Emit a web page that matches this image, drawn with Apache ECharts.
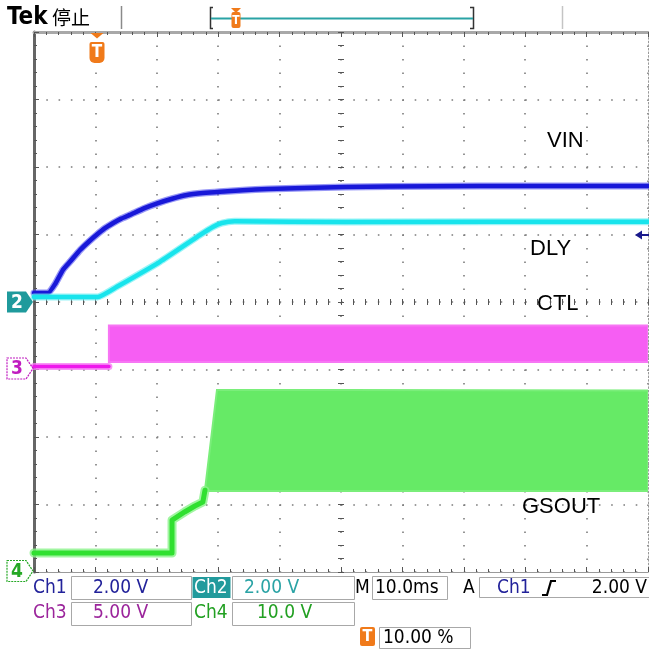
<!DOCTYPE html>
<html><head><meta charset="utf-8">
<script src="https://cdn.jsdelivr.net/npm/echarts@6/dist/echarts.min.js"></script>
<style>html,body{margin:0;padding:0;background:#fff}#c{width:649px;height:651px}</style>
</head><body><div id="c"></div>
<script>
// ---- scope settings ----
const channelNames = ['VIN', 'DLY', 'CTL', 'GSOUT'];
const voltsPerDiv = [2, 2, 5, 10];
const groundDiv = [4, 4, 3, 0];          // ground marker position, divisions from bottom
const scaleLabels = ['2.00 V', '2.00 V', '5.00 V', '10.0 V'];
const timeMin = -10, timeMax = 90, msPerDiv = 10;   // 10.0 ms/div, trigger at 10 %
const timebaseLabel = '10.0ms';
const triggerLabel = '2.00 V';
const triggerPosLabel = '10.00 %';

// ---- Ch1 VIN ----
const vinTime  = [-10, -7.7, -6.5, -5.3, -4.0, -2.5, -1.0, 0.2, 1.5, 2.9, 4.2, 5.6, 8.0, 10.2, 12.5, 14.9, 17.5, 20.3, 24.0, 28.1, 34.0, 40.7, 55, 70, 90];
const vinVolts = [0.27, 0.27, 0.55, 0.95, 1.22, 1.54, 1.80, 1.99, 2.18, 2.34, 2.47, 2.58, 2.78, 2.93, 3.06, 3.17, 3.23, 3.27, 3.31, 3.35, 3.38, 3.41, 3.43, 3.44, 3.44];
// ---- Ch2 DLY ----
const dlyTime  = [-10, 0.4, 3.5, 10.5, 17.0, 19.2, 20.6, 22.7, 40.7, 90];
const dlyVolts = [0.15, 0.15, 0.45, 1.19, 1.98, 2.23, 2.34, 2.39, 2.37, 2.38];
// ---- Ch3 CTL ----
const ctlTime  = [-10, 2.2];
const ctlVolts = [0.22, 0.22];
const ctlBandTime  = [2.2, 90];
const ctlBandHigh  = [3.26, 3.26];
const ctlBandLow   = [0.56, 0.56];
// ---- Ch4 GSOUT ----
const gsTime  = [-10, 12.48, 12.48, 14.6, 16.2, 17.5, 17.85];
const gsVolts = [2.81, 2.81, 7.7, 8.93, 9.78, 10.37, 12.1];
const gsBandTime = [17.85, 19.8, 40, 90];
const gsBandHigh = [12.15, 26.96, 26.95, 26.9];
const gsBandLow  = [12.0, 12.0, 12.0, 12.0];

const zip = (a, b) => a.map((v, i) => [v, b[i]]);
const chart = echarts.init(document.getElementById('c'), null, {renderer: 'canvas'});

const G = {left: 34, top: 32, width: 614, height: 540};
const tickCol = '#555';
const dotCol = '#7c7c7c';

function rulerX(pos, extra) {
  return Object.assign({
    type: 'value', min: timeMin, max: timeMax, interval: msPerDiv, position: pos,
    axisLabel: {show: false},
    axisLine: {show: true, onZero: false, lineStyle: {color: '#9a9a9a', width: 1}},
    axisTick: {show: true, inside: true, length: 5, lineStyle: {color: tickCol}},
    minorTick: {show: true, splitNumber: 5, length: 3, lineStyle: {color: tickCol}},
    splitLine: {show: false}
  }, extra || {});
}
function rulerY(pos, extra) {
  return Object.assign({
    type: 'value', min: 0, max: 8, interval: 1, position: pos,
    axisLabel: {show: false},
    axisLine: {show: true, onZero: false, lineStyle: {color: '#666', width: 3}},
    axisTick: {show: true, inside: true, length: 5, lineStyle: {color: tickCol}},
    minorTick: {show: true, splitNumber: 5, length: 3, lineStyle: {color: tickCol}},
    splitLine: {show: false}
  }, extra || {});
}

const xAxes = [
  rulerX('bottom', {splitLine: {show: true, lineStyle: {color: dotCol, width: 1.6, type: [1.6, 11.9]}}}),
  rulerX('top', {axisLine: {show: true, onZero: false, lineStyle: {color: '#a8a8a8', width: 3}}}),
  rulerX('bottom', {offset: -270, axisLine: {show: false}, axisTick: {show: true, inside: true, length: 3, lineStyle: {color: tickCol}}, minorTick: {show: true, splitNumber: 5, length: 3, lineStyle: {color: tickCol}}}),
  rulerX('bottom', {offset: -270, axisLine: {show: false}, axisTick: {show: true, inside: false, length: 3, lineStyle: {color: tickCol}}, minorTick: {show: true, splitNumber: 5, length: 3, lineStyle: {color: tickCol}}})
];
const yAxes = [
  rulerY('left', {splitLine: {show: true, lineStyle: {color: dotCol, width: 1.6, type: [1.6, 10.68]}}}),
  rulerY('left', {offset: -307, axisLine: {show: false}, axisTick: {show: true, inside: true, length: 3, lineStyle: {color: tickCol}}, minorTick: {show: true, splitNumber: 5, length: 3, lineStyle: {color: tickCol}}}),
  rulerY('left', {offset: -307, axisLine: {show: false}, axisTick: {show: true, inside: false, length: 3, lineStyle: {color: tickCol}}, minorTick: {show: true, splitNumber: 5, length: 3, lineStyle: {color: tickCol}}}),
  rulerY('right', {axisLine: {show: true, onZero: false, lineStyle: {color: '#9a9a9a', width: 1, type: [1.6, 2]}}, axisTick: {show: false}, minorTick: {show: false}})
];
// one hidden voltage axis per channel (yAxisIndex 4..7)
voltsPerDiv.forEach((v, i) => {
  yAxes.push({type: 'value', show: false, min: -groundDiv[i] * v, max: (8 - groundDiv[i]) * v});
});

function band(yIdx, times, hi, lo, fill, edge) {
  return {
    type: 'custom', xAxisIndex: 0, yAxisIndex: yIdx, clip: true, silent: true, z: 3,
    data: [[times[0], lo[0]]],
    renderItem: (params, api) => {
      const pts = [];
      for (let i = 0; i < times.length; i++) pts.push(api.coord([times[i], hi[i]]));
      for (let i = times.length - 1; i >= 0; i--) pts.push(api.coord([times[i], lo[i]]));
      return {type: 'polygon', shape: {points: pts}, style: {fill: fill, stroke: edge, lineWidth: 2}};
    }
  };
}
function trace(yIdx, data, color, width, smooth, z, opacity) {
  return {type: 'line', xAxisIndex: 0, yAxisIndex: yIdx, data: data, showSymbol: false, symbol: 'none',
    smooth: smooth, silent: true, z: z || 4, animation: false,
    lineStyle: {color: color, width: width, cap: 'round', join: 'round', opacity: opacity == null ? 1 : opacity}};
}

const series = [
  band(6, ctlBandTime, ctlBandHigh, ctlBandLow, '#f65ef3', '#f776f4'),
  trace(6, zip(ctlTime, ctlVolts), '#f77af5', 7, false, 4, 0.8),
  trace(6, zip(ctlTime, ctlVolts), '#ee18ec', 3.5, false),
  band(7, gsBandTime, gsBandHigh, gsBandLow, '#66ea66', '#7aee7a'),
  trace(7, zip(gsTime, gsVolts), '#8af28a', 9, false, 4, 0.8),
  trace(7, zip(gsTime, gsVolts), '#30e030', 5, false),
  trace(4, zip(vinTime, vinVolts), '#4444ee', 7, 0.15, 5, 0.55),
  trace(4, zip(vinTime, vinVolts), '#1818d8', 4.5, 0.15, 5),
  trace(5, zip(dlyTime, dlyVolts), '#70f0f4', 7, 0.15, 5, 0.7),
  trace(5, zip(dlyTime, dlyVolts), '#18e4ec', 4.5, 0.15, 5)
];

const F = "'DejaVu Sans Condensed','DejaVu Sans',sans-serif";
const blue = '#22229a', teal = '#2aa3a5', purple = '#9b249b', green = '#22a022', orange = '#f07a1a';
function txt(x, y, s, color, size, extra) {
  return Object.assign({type: 'text', x: x, y: y, silent: true, z: 100,
    style: {text: s, fill: color, font: (size || 19) + 'px ' + F, textVerticalAlign: 'middle', textAlign: 'left'}}, extra || {});
}
function box(x1, y1, x2, y2, extra) {
  return Object.assign({type: 'rect', silent: true, z: 99, shape: {x: x1 + 0.5, y: y1 + 0.5, width: x2 - x1, height: y2 - y1},
    style: {fill: '#fff', stroke: '#a8a8a8', lineWidth: 1}}, extra || {});
}
function marker(yc, label, color, filled) {
  return [
    {type: 'polygon', silent: true, z: 100, shape: {points: [[7, yc - 10.5], [26, yc - 10.5], [33, yc], [26, yc + 10.5], [7, yc + 10.5]]},
      style: filled ? {fill: color} : {fill: '#fff', stroke: color, lineWidth: 1.2, lineDash: [2, 1]}},
    {type: 'text', silent: true, z: 101, x: 17, y: yc + 1, style: {text: label, fill: filled ? '#fff' : color,
      font: 'bold 19px ' + F, textAlign: 'center', textVerticalAlign: 'middle'}}
  ];
}
const LF = "'Liberation Sans',Arial,sans-serif";
function chLabel(x, y, s) {
  return {type: 'text', x: x, y: y, silent: true, z: 100, style: {text: s, fill: '#000', font: '22px ' + LF, textVerticalAlign: 'middle'}};
}

const graphics = [
  // header
  {type: 'text', x: 7, y: 18, silent: true, style: {text: 'Tek', fill: '#000', font: "bold 24px 'Liberation Sans Narrow','DejaVu Sans Condensed',sans-serif", textVerticalAlign: 'middle'}},
  {type: 'text', x: 52, y: 18, silent: true, style: {text: '停止', fill: '#000', font: "19px 'Noto Sans CJK SC',sans-serif", textVerticalAlign: 'middle'}},
  {type: 'line', silent: true, shape: {x1: 121.5, y1: 6, x2: 121.5, y2: 29}, style: {stroke: '#8a8a8a', lineWidth: 1.5}},
  {type: 'line', silent: true, shape: {x1: 562.5, y1: 6, x2: 562.5, y2: 29}, style: {stroke: '#c4c4c4', lineWidth: 1.5}},
  {type: 'polyline', silent: true, shape: {points: [[213, 7.5], [210.5, 7.5], [210.5, 28.5], [213, 28.5]]}, style: {stroke: '#333', lineWidth: 1.5, fill: null}},
  {type: 'polyline', silent: true, shape: {points: [[470, 7.5], [473.5, 7.5], [473.5, 28.5], [470, 28.5]]}, style: {stroke: '#333', lineWidth: 1.5, fill: null}},
  {type: 'line', silent: true, shape: {x1: 211, y1: 18.5, x2: 473, y2: 18.5}, style: {stroke: teal, lineWidth: 2}},
  {type: 'polygon', silent: true, shape: {points: [[231, 8], [241, 8], [236, 13]]}, style: {fill: orange}},
  {type: 'rect', silent: true, shape: {x: 231.5, y: 12, width: 9, height: 16, r: 2}, style: {fill: orange}},
  {type: 'text', silent: true, x: 236, y: 20.5, style: {text: 'T', fill: '#fff', font: 'bold 12px ' + F, textAlign: 'center', textVerticalAlign: 'middle'}},
  // trigger position marker on graticule
  {type: 'polygon', silent: true, z: 100, shape: {points: [[90.5, 33], [103.5, 33], [97, 38.5]]}, style: {fill: orange}},
  {type: 'rect', silent: true, z: 100, shape: {x: 89.5, y: 42, width: 15, height: 21, r: [2, 2, 5, 5]}, style: {fill: orange}},
  {type: 'text', silent: true, z: 101, x: 97, y: 53, style: {text: 'T', fill: '#fff', font: 'bold 17px ' + F, textAlign: 'center', textVerticalAlign: 'middle'}},
  // trigger level arrow (right edge)
  {type: 'polygon', silent: true, z: 100, shape: {points: [[635, 235], [642, 230.5], [642, 239.5]]}, style: {fill: '#1a1a8c'}},
  {type: 'line', silent: true, z: 100, shape: {x1: 641, y1: 235, x2: 649, y2: 235}, style: {stroke: '#1a1a8c', lineWidth: 2}},
  // channel names
  chLabel(547, 141, channelNames[0]),
  chLabel(530, 249, channelNames[1]),
  chLabel(537, 304, channelNames[2]),
  chLabel(522, 507, channelNames[3]),
  // ground markers
  ...marker(302, '2', '#1f9a9c', true),
  ...marker(368.5, '3', '#c01cc0', false),
  ...marker(571, '4', '#25a825', false),
  // readout row 1
  txt(33, 588, 'Ch1', blue),
  box(71, 576, 191, 599), txt(93, 588, scaleLabels[0], blue),
  {type: 'rect', silent: true, z: 99, shape: {x: 192.5, y: 577, width: 38, height: 21}, style: {fill: '#229a9c'}},
  txt(194, 588, 'Ch2', '#fff'),
  box(232, 576, 354, 599), txt(244, 588, scaleLabels[1], teal),
  txt(355, 588, 'M', '#000'),
  box(372, 576, 447, 599), txt(375, 588, timebaseLabel, '#000'),
  txt(463, 588, 'A', '#000'),
  box(479, 577, 652, 597), txt(497, 588, 'Ch1', blue),
  {type: 'polyline', silent: true, z: 101, shape: {points: [[542, 595], [547, 595], [551, 581], [556, 581]]}, style: {stroke: '#000', lineWidth: 2.2, fill: null}},
  txt(647, 588, triggerLabel, '#000', 19, {style: {text: triggerLabel, fill: '#000', font: '19px ' + F, textVerticalAlign: 'middle', textAlign: 'right'}}),
  // readout row 2
  txt(33, 613, 'Ch3', purple),
  box(71, 602, 191, 625), txt(93, 613, scaleLabels[2], purple),
  txt(194, 613, 'Ch4', green),
  box(232, 602, 354, 625), txt(257, 613, scaleLabels[3], green),
  // readout row 3
  {type: 'rect', silent: true, z: 100, shape: {x: 360, y: 627, width: 15, height: 19, r: 2}, style: {fill: orange}},
  {type: 'text', silent: true, z: 101, x: 367.5, y: 637, style: {text: 'T', fill: '#fff', font: 'bold 16px ' + F, textAlign: 'center', textVerticalAlign: 'middle'}},
  box(379, 627, 470, 648), txt(383, 638, triggerPosLabel, '#000')
];

chart.setOption({
  animation: false,
  backgroundColor: '#fff',
  grid: G,
  xAxis: xAxes,
  yAxis: yAxes,
  series: series,
  graphic: {elements: graphics}
});
</script></body></html>
